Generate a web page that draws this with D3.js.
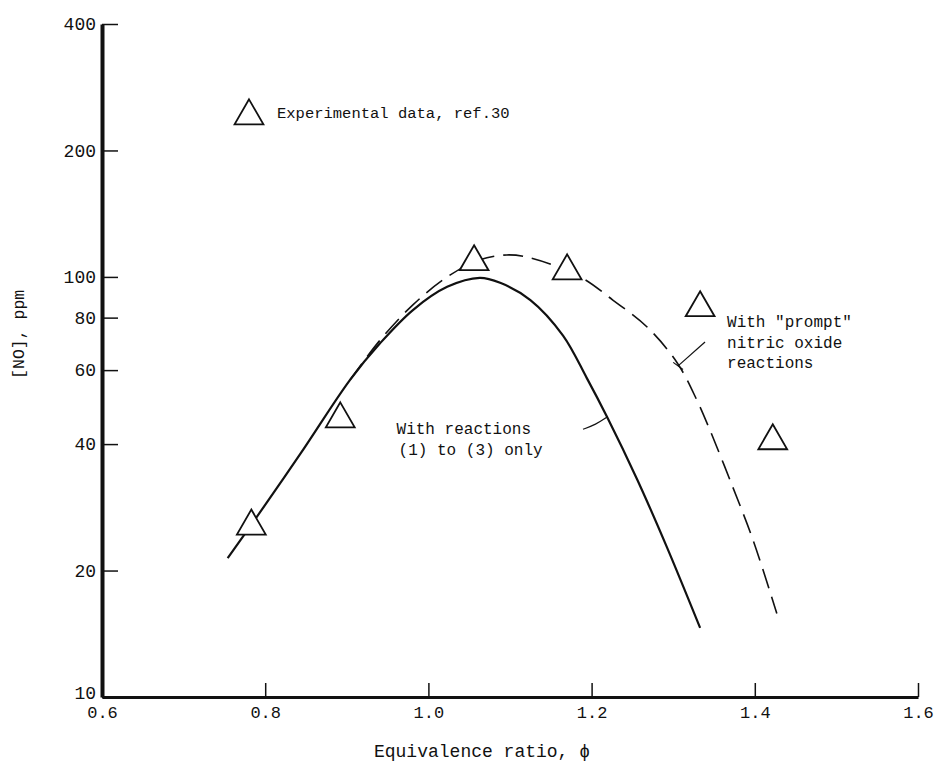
<!DOCTYPE html>
<html>
<head>
<meta charset="utf-8">
<title>NO vs equivalence ratio</title>
<style>
  html,body{margin:0;background:#fff;}
  svg text{font-family:"Liberation Mono","DejaVu Sans Mono",monospace;fill:#111;}
</style>
</head>
<body>
<div id="chart"></div>
<script src="https://cdn.jsdelivr.net/npm/d3@7"></script>
<script>
// equivalence ratio ticks and [NO] ticks (ppm)
const xTicks = [0.6, 0.8, 1.0, 1.2, 1.4, 1.6];
const yTicks = [10, 20, 40, 60, 80, 100, 200, 400];

// experimental data, ref. 30
const expPhi = [0.783, 0.892, 1.056, 1.170, 1.333, 1.422];
const expNO  = [25.5, 45.9, 108.6, 103.3, 84.4, 40.7];

// with reactions (1) to (3) only
const solidPhi = [0.754, 0.783, 0.843, 0.904, 0.941, 0.981, 1.023, 1.063, 1.088, 1.125, 1.165, 1.194, 1.219, 1.256, 1.292, 1.333];
const solidNO  = [21.4, 25.7, 37.9, 56.9, 69.6, 83.4, 94.7, 99.5, 96.8, 88.1, 72.5, 57.5, 46.4, 32.9, 22.8, 14.6];

// with "prompt" nitric oxide reactions
const dashPhi = [0.904, 0.941, 0.981, 1.023, 1.063, 1.096, 1.125, 1.186, 1.226, 1.268, 1.305, 1.329, 1.345, 1.373, 1.398, 1.427];
const dashNO  = [56.9, 70.8, 85.8, 100, 109.8, 112.8, 111.0, 100, 88.1, 76.0, 62.4, 50.9, 43.2, 31.6, 23.6, 15.8];

const width = 937, height = 761;

const svg = d3.select("#chart").append("svg")
    .attr("width", width)
    .attr("height", height);

const x = d3.scaleLinear().domain([0.6, 1.6]).range([102, 918]);
const y = d3.scaleLog().domain([10, 400]).range([697, 24]);

// axes
const yAxis = svg.append("g")
    .attr("transform", `translate(${x(0.6)},0)`)
    .call(d3.axisLeft(y).tickValues(yTicks).tickFormat(d3.format("d"))
        .tickSizeInner(-16).tickSizeOuter(0).tickPadding(6));
yAxis.select(".domain").attr("stroke-width", 4).attr("stroke", "#111");
yAxis.selectAll(".tick text").attr("font-size", 18)
    .attr("dy", d => d === 10 ? "0.1em" : "0.32em");

const xAxis = svg.append("g")
    .attr("transform", `translate(0,${y(10)})`)
    .call(d3.axisBottom(x).tickValues(xTicks).tickFormat(d3.format(".1f"))
        .tickSizeInner(-14).tickSizeOuter(0).tickPadding(9));
xAxis.select(".domain").attr("stroke-width", 3).attr("stroke", "#111");
xAxis.selectAll(".tick text").attr("font-size", 17);

svg.selectAll(".tick line").attr("stroke", "#111").attr("stroke-width", 1.5);
svg.selectAll(".tick text").style("font-family", null);

// axis titles
svg.append("text")
    .attr("transform", `translate(24,${y(73)}) rotate(-90)`)
    .attr("text-anchor", "middle")
    .attr("font-size", 16.5)
    .text("[NO], ppm");

svg.append("text")
    .attr("x", (x(1.0) + x(1.2)) / 2 - 28)
    .attr("y", 757)
    .attr("text-anchor", "middle")
    .attr("font-size", 18)
    .text("Equivalence ratio, \u03d5");

// curves
const line = d3.line()
    .x(d => x(d[0]))
    .y(d => y(d[1]))
    .curve(d3.curveCatmullRom.alpha(0.5));

svg.append("path")
    .datum(d3.zip(solidPhi, solidNO))
    .attr("d", line)
    .attr("fill", "none")
    .attr("stroke", "#111")
    .attr("stroke-width", 2.2);

svg.append("path")
    .datum(d3.zip(dashPhi, dashNO))
    .attr("d", line)
    .attr("fill", "none")
    .attr("stroke", "#111")
    .attr("stroke-width", 1.6)
    .attr("stroke-dasharray", "20,9");

// experimental triangles
const tri = d3.symbol().type(d3.symbolTriangle).size(360);

svg.append("g")
    .selectAll("path")
    .data(d3.zip(expPhi, expNO))
    .join("path")
    .attr("d", tri)
    .attr("transform", d => `translate(${x(d[0])},${y(d[1])})`)
    .attr("fill", "#fff")
    .attr("stroke", "#111")
    .attr("stroke-width", 1.8);

// legend
svg.append("path")
    .attr("d", tri)
    .attr("transform", `translate(249,116)`)
    .attr("fill", "#fff")
    .attr("stroke", "#111")
    .attr("stroke-width", 1.8);
svg.append("text")
    .attr("x", 277)
    .attr("y", 118)
    .attr("font-size", 15.5)
    .text("Experimental data, ref.30");

// curve labels with leader lines
const leader = d3.line().x(d => x(d[0])).y(d => y(d[1])).curve(d3.curveBasis);

svg.append("path")
    .datum([[1.1895, 43.4], [1.205, 44.5], [1.219, 46.4]])
    .attr("d", leader)
    .attr("fill", "none").attr("stroke", "#111").attr("stroke-width", 1.2);

svg.append("path")
    .datum([[1.339, 70.0], [1.306, 61.4]])
    .attr("d", leader)
    .attr("fill", "none").attr("stroke", "#111").attr("stroke-width", 1.2);
svg.append("path")
    .datum([[1.300, 62.6], [1.312, 60.2]])
    .attr("d", leader)
    .attr("fill", "none").attr("stroke", "#111").attr("stroke-width", 1.2);

const solidLabel = ["With reactions", "(1) to (3) only"];
svg.append("text")
    .attr("x", x(0.961))
    .attr("y", y(43.4) + 5)
    .attr("font-size", 16)
    .selectAll("tspan")
    .data(solidLabel)
    .join("tspan")
    .attr("x", (d, i) => x(0.961) + i * 2)
    .attr("dy", (d, i) => i ? 20.5 : 0)
    .text(d => d);

const dashLabel = ["With \"prompt\"", "nitric oxide", "reactions"];
svg.append("text")
    .attr("x", x(1.366))
    .attr("y", y(78) + 5)
    .attr("font-size", 16)
    .selectAll("tspan")
    .data(dashLabel)
    .join("tspan")
    .attr("x", x(1.366))
    .attr("dy", (d, i) => i ? 20.5 : 0)
    .text(d => d);
</script>
</body>
</html>
